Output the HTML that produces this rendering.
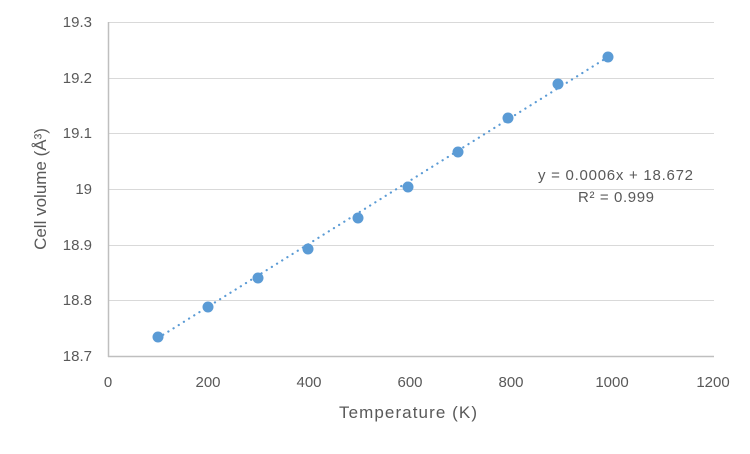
<!DOCTYPE html>
<html><head><style>body{margin:0;background:#fff}</style></head><body>
<svg width="750" height="449" xmlns="http://www.w3.org/2000/svg" font-family="Liberation Sans, sans-serif">
<rect width="750" height="449" fill="#fff"/>
<g stroke="#d9d9d9" stroke-width="1">
<line x1="108" y1="22.5" x2="714" y2="22.5"/>
<line x1="108" y1="78.5" x2="714" y2="78.5"/>
<line x1="108" y1="133.5" x2="714" y2="133.5"/>
<line x1="108" y1="189.5" x2="714" y2="189.5"/>
<line x1="108" y1="245.5" x2="714" y2="245.5"/>
<line x1="108" y1="300.5" x2="714" y2="300.5"/>
</g>
<g stroke="#bfbfbf" stroke-width="1.5">
<line x1="108.5" y1="22" x2="108.5" y2="357"/>
<line x1="108" y1="356.5" x2="714" y2="356.5"/>
</g>
<g font-size="15" fill="#595959" text-anchor="end">
<text x="92" y="27">19.3</text><text x="92" y="83">19.2</text><text x="92" y="138">19.1</text>
<text x="92" y="194">19</text><text x="92" y="250">18.9</text><text x="92" y="305">18.8</text><text x="92" y="361">18.7</text>
</g>
<g font-size="15" fill="#595959" text-anchor="middle">
<text x="108" y="387">0</text><text x="208" y="387">200</text><text x="309" y="387">400</text><text x="410" y="387">600</text>
<text x="511" y="387">800</text><text x="612" y="387">1000</text><text x="713" y="387">1200</text>
</g>
<text x="408" y="418" font-size="17" fill="#595959" text-anchor="middle" textLength="138">Temperature (K)</text>
<text transform="translate(46,189) rotate(-90)" font-size="17" fill="#595959" text-anchor="middle">Cell volume (Å³)</text>
<line x1="158" y1="338" x2="608" y2="57" stroke="#5b9bd5" stroke-width="2.2" stroke-dasharray="0.1,6" stroke-linecap="round"/>
<g fill="#5b9bd5">
<circle cx="158" cy="337" r="5.5"/><circle cx="208" cy="307" r="5.5"/><circle cx="258" cy="278" r="5.5"/>
<circle cx="308" cy="249" r="5.5"/><circle cx="358" cy="218" r="5.5"/><circle cx="408" cy="187" r="5.5"/>
<circle cx="458" cy="152" r="5.5"/><circle cx="508" cy="118" r="5.5"/><circle cx="558" cy="84" r="5.5"/>
<circle cx="608" cy="57" r="5.5"/>
</g>
<g font-size="15" fill="#595959">
<text x="538" y="180" textLength="155">y = 0.0006x + 18.672</text>
<text x="578" y="202" textLength="76">R² = 0.999</text>
</g>
</svg>
</body></html>
